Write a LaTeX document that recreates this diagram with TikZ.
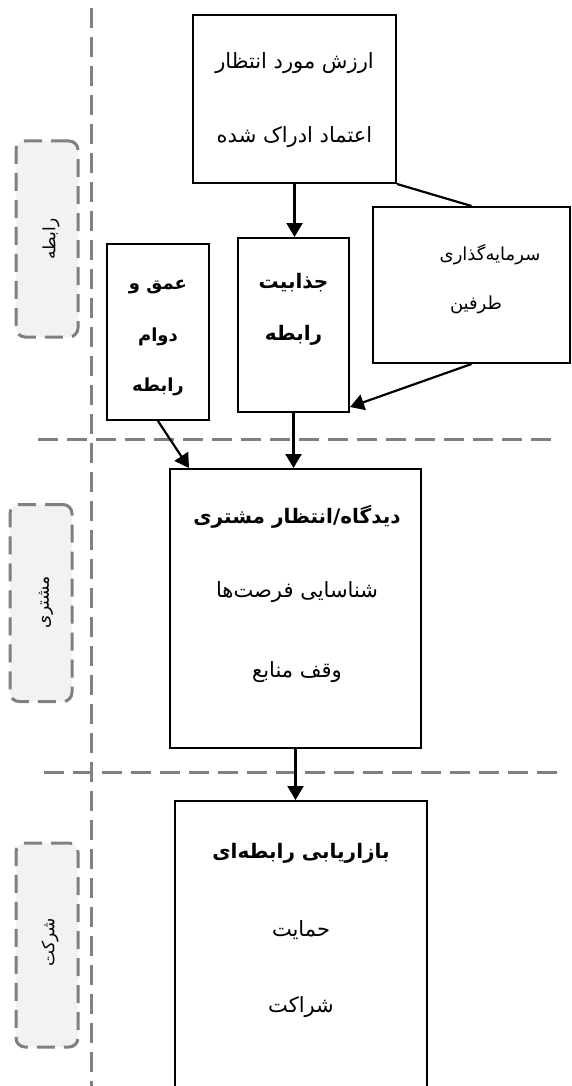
\documentclass[tikz,border=0pt]{standalone}
\usepackage{fontspec}
\usetikzlibrary{arrows.meta,calc}
\newfontfamily\fafont[Script=Arabic]{DejaVu Sans}
\TeXXeTstate=1
\newcommand{\fa}[1]{\beginR #1\endR}
\definecolor{sepgray}{RGB}{128,128,128}
\definecolor{lblfill}{RGB}{242,242,242}
\tikzset{
 box/.style={draw=black, line width=2pt, fill=white, inner sep=0pt},
 txt/.style={font=\fafont\fontsize{21}{25}\selectfont, inner sep=0pt},
 stxt/.style={font=\fafont\fontsize{18}{22}\selectfont, inner sep=0pt},
 btxt/.style={font=\fafont\bfseries\fontsize{20}{24}\selectfont, inner sep=0pt},
 sbtxt/.style={font=\fafont\bfseries\fontsize{18}{22}\selectfont, inner sep=0pt},
 arr/.style={line width=2.2pt, -{Triangle[length=14pt,width=16pt]}},
 plain/.style={line width=2.2pt},
 sep/.style={draw=sepgray, line width=3pt, dash pattern=on 20pt off 9pt},
 lbl/.style={draw=sepgray, fill=lblfill, line width=3pt, dash pattern=on 18pt off 9pt, rounded corners=9pt, inner sep=0pt},
 lbltxt/.style={font=\fafont\fontsize{17}{20}\selectfont, rotate=90, inner sep=0pt}
}
\begin{document}
\begin{tikzpicture}[x=1pt,y=-1pt]
\path[use as bounding box] (0,0) rectangle (571,1086);
\clip (0,0) rectangle (571,1086);
% separators
\coordinate (v1) at (91,8);
\coordinate (v2) at (91,1086);
\coordinate (h1a) at (38,439);
\coordinate (h1b) at (557,439);
\coordinate (h2a) at (44,772);
\coordinate (h2b) at (561,772);
\draw[sep] (v1) -- (v2);
\draw[sep] (h1a) -- (h1b);
\draw[sep] (h2a) -- (h2b);
% side labels
\node[lbl, minimum width=62pt, minimum height=196pt] (l1) at (47,239) {};
\node[lbltxt] (l1t) at (51,239) {\fa{رابطه}};
\node[lbl, minimum width=62pt, minimum height=197pt] (l2) at (41,603) {};
\node[lbltxt] (l2t) at (46,602) {\fa{مشتری}};
\node[lbl, minimum width=62pt, minimum height=204pt] (l3) at (47,945) {};
\node[lbltxt] (l3t) at (50,942) {\fa{شرکت}};
% boxes
\node[box, minimum width=203pt, minimum height=168pt] (top) at (294.5,99) {};
\node[txt] (topa) at (294.5,63) {\fa{ارزش مورد انتظار}};
\node[txt] (topb) at (294.5,137) {\fa{اعتماد ادراک شده}};
\node[box, minimum width=111pt, minimum height=174pt] (jaz) at (293.5,325) {};
\node[btxt] (jaza) at (293.5,283) {\fa{جذابیت}};
\node[btxt] (jazb) at (293.5,335) {\fa{رابطه}};
\node[box, minimum width=102pt, minimum height=176pt] (omq) at (158,332) {};
\node[sbtxt] (omqa) at (158,287) {\fa{عمق و}};
\node[sbtxt] (omqb) at (158,337) {\fa{دوام}};
\node[sbtxt] (omqc) at (158,387) {\fa{رابطه}};
\node[box, minimum width=197pt, minimum height=156pt] (rgt) at (471.5,285) {};
\node[stxt] (rgta) at (490,255) {\fa{سرمایه‌گذاری}};
\node[stxt] (rgtb) at (476,305) {\fa{طرفین}};
\node[box, minimum width=251pt, minimum height=279pt] (did) at (295.5,608.5) {};
\node[btxt] (dida) at (297,517) {\fa{دیدگاه/انتظار مشتری}};
\node[txt] (didb) at (297,592) {\fa{شناسایی فرصت‌ها}};
\node[txt] (didc) at (297,672) {\fa{وقف منابع}};
\node[box, minimum width=252pt, minimum height=320pt] (bot) at (301,961) {};
\node[btxt] (bota) at (301,853) {\fa{بازاریابی رابطه‌ای}};
\node[txt] (botb) at (301,930) {\fa{حمایت}};
\node[txt] (botc) at (301,1007) {\fa{شراکت}};
% connectors
\draw[arr] (top.south) -- (top.south |- jaz.north);
\draw[plain] (top.south east) -- (rgt.north);
\draw[arr] (rgt.south) -- ([yshift=6pt]jaz.south east);
\draw[arr] (omq.south) -- ([xshift=20pt]did.north west);
\draw[arr] (jaz.south) -- (jaz.south |- did.north);
\draw[arr] (did.south) -- (did.south |- bot.north);
\end{tikzpicture}
\end{document}
